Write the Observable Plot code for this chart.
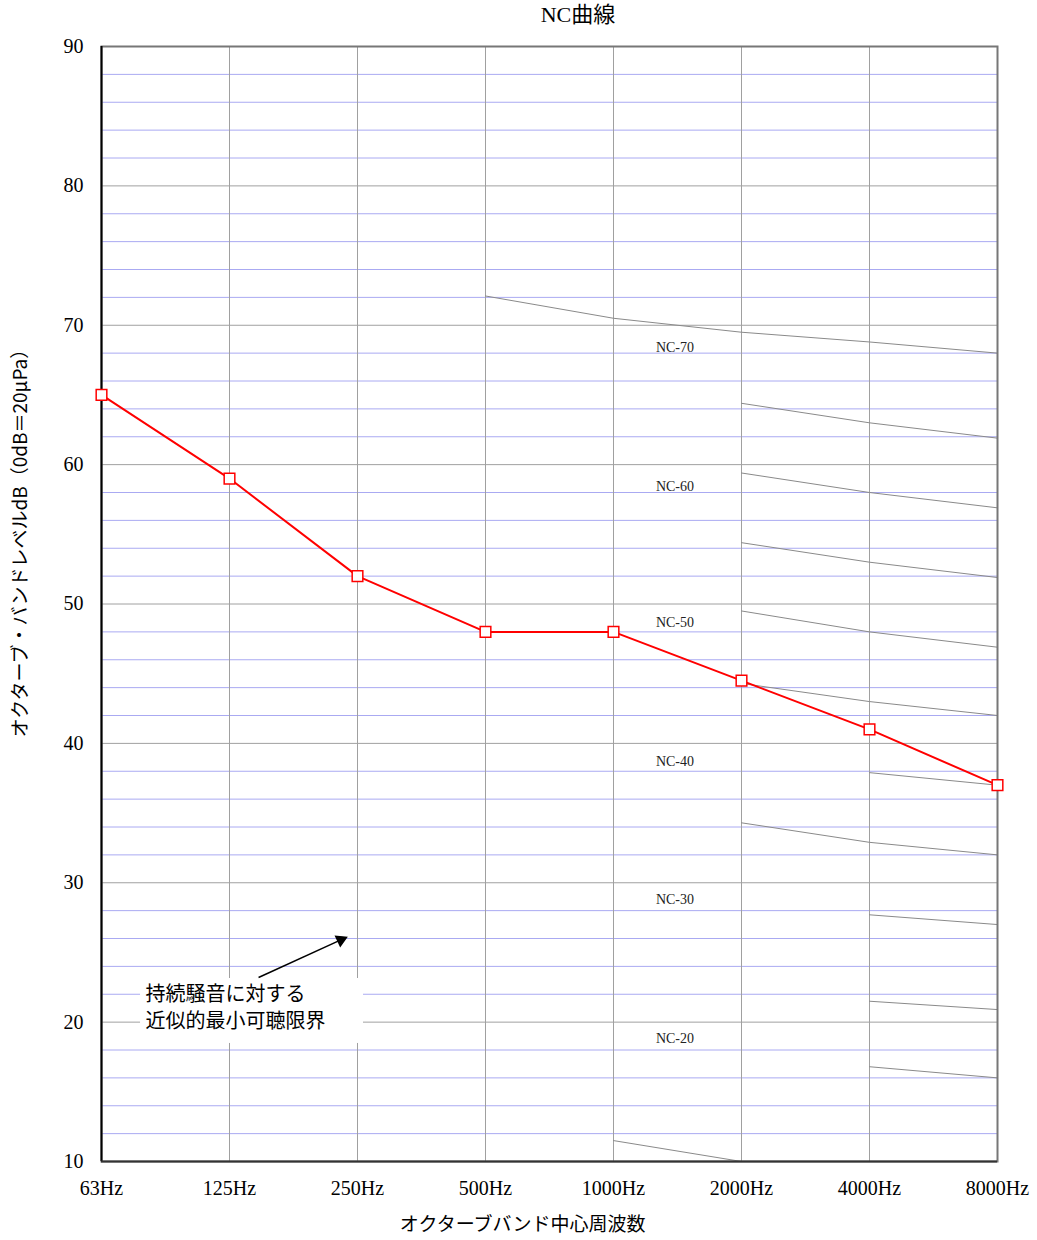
<!DOCTYPE html>
<html>
<head>
<meta charset="utf-8">
<script src="https://cdn.jsdelivr.net/npm/d3@7"></script>
<script src="https://cdn.jsdelivr.net/npm/@observablehq/plot@0.6"></script>
<style>
  body { margin: 0; background: #fff; }
  #wrap { position: relative; width: 1037px; height: 1240px; }
  #title { position: absolute; z-index: 2; top: 2px; left: 478px; width: 200px; text-align: center;
           font-family: 'Liberation Serif', 'Noto Sans CJK JP', serif; font-size: 22px; line-height: 26px; color: #000; }
  #chart { position: absolute; z-index: 1; top: 0; left: 0; }
</style>
</head>
<body>
<div id="wrap">
  <div id="chart"></div>
  <div id="title">NC曲線</div>
</div>
<script>
// ---- data ----
const freqLabels = ["63Hz", "125Hz", "250Hz", "500Hz", "1000Hz", "2000Hz", "4000Hz", "8000Hz"];
const measured = [65, 59, 52, 48, 48, 44.5, 41, 37];
const yTicks = [10, 20, 30, 40, 50, 60, 70, 80, 90];

// NC reference curve segments (as drawn): first band index and values
const ncSegNames  = ["NC-70", "NC-65", "NC-60", "NC-55", "NC-50", "NC-45", "NC-40", "NC-35", "NC-30", "NC-25", "NC-20", "NC-15"];
const ncSegStart  = [3, 5, 5, 5, 5, 5, 6, 5, 6, 6, 6, 4];
const ncSegValues = [
  [72.1, 70.5, 69.5, 68.8, 68],
  [64.4, 63, 61.9],
  [59.4, 58, 56.9],
  [54.4, 53, 51.9],
  [49.5, 48, 46.9],
  [44.3, 43, 42],
  [37.9, 37],
  [34.3, 32.9, 32],
  [27.7, 27],
  [21.5, 20.9],
  [16.8, 16],
  [11.5, 10]
];

// NC curve labels and the level they sit at
const ncLabels = ["NC-70", "NC-60", "NC-50", "NC-40", "NC-30", "NC-20"];
const ncLabelLevels = [68.4, 58.4, 48.7, 38.7, 28.8, 18.8];

const annotationLines = ["持続騒音に対する", "近似的最小可聴限界"];
const yLabel = "オクターブ・バンドレベルdB（0dB＝20μPa）";
const xLabel = "オクターブバンド中心周波数";

// ---- derived tables ----
const measuredData = measured.map((v, i) => ({i, v}));
const ncData = ncSegNames.flatMap((name, k) =>
  ncSegValues[k].map((v, j) => ({name, i: ncSegStart[k] + j, v})));
const ncLabelData = ncLabels.map((t, k) => ({t, v: ncLabelLevels[k]}));

const minorGrid = d3.range(12, 90, 2).filter(v => v % 10 !== 0);
const majorGrid = [20, 30, 40, 50, 60, 70, 80];

// annotation placement (chart units: band index / dB)
const ann = {box: {x1: 0.305, x2: 2.047, y1: 18.47, y2: 23.13},
             textX: 0.344, textY: [22.0, 20.02],
             arrow: {x1: 1.227, y1: 23.2, x2: 1.87, y2: 25.9}};

const serif = "'Liberation Serif', 'Noto Sans CJK JP', serif";
const jp = "'Noto Sans CJK JP', sans-serif";

const chart = Plot.plot({
  width: 1037,
  height: 1240,
  marginLeft: 101,
  marginRight: 40,
  marginTop: 46,
  marginBottom: 79,
  style: {fontFamily: serif, fontSize: "20px", background: "#fff", color: "#000"},
  x: {domain: [0, 7], axis: null},
  y: {domain: [10, 90], axis: null},
  marks: [
    Plot.ruleY(minorGrid, {stroke: "#aaaaf2", strokeWidth: 1}),
    Plot.ruleY(majorGrid, {stroke: "#a0a0a0", strokeWidth: 1}),
    Plot.ruleX(d3.range(1, 7), {stroke: "#a0a0a0", strokeWidth: 1}),
    // annotation background
    Plot.rect([ann.box], {x1: "x1", x2: "x2", y1: "y1", y2: "y2", fill: "#fff"}),
    // NC curves
    Plot.line(ncData, {x: "i", y: "v", z: "name", stroke: "#8a8a8a", strokeWidth: 1}),
    Plot.text(ncLabelData, {x: () => 4.48, y: "v", text: "t", fontSize: 14, fill: "#222",
      fontFamily: serif}),
    // annotation
    Plot.link([ann.arrow], {x1: "x1", y1: "y1", x2: "x2", y2: "y2", stroke: "#000", strokeWidth: 1.5}),
    Plot.dot([ann.arrow], {x: "x2", y: "y2", symbol: "triangle", r: 4, fill: "#000", stroke: "#000", rotate: 65}),
    Plot.text(annotationLines, {x: () => ann.textX, y: (d, i) => ann.textY[i], text: d => d,
      textAnchor: "start", lineAnchor: "middle", fontSize: 20, fontFamily: jp, fill: "#000"}),
    // frame
    Plot.frame({stroke: "#777", strokeWidth: 2}),
    Plot.ruleX([0], {stroke: "#000", strokeWidth: 2}),
    Plot.ruleY([10], {stroke: "#333", strokeWidth: 2}),
    // axes
    Plot.axisY({ticks: yTicks, tickSize: 0, tickPadding: 18, fontSize: 20, label: null}),
    Plot.axisX({ticks: d3.range(0, 8), tickFormat: i => freqLabels[i], tickSize: 0, tickPadding: 19, fontSize: 20, label: null}),
    // axis titles
    Plot.text([yLabel], {frameAnchor: "left", y: () => 54.7, text: d => d, dx: -81, rotate: -90,
      textAnchor: "middle", fontSize: 19, fontFamily: jp, fill: "#000"}),
    Plot.text([xLabel], {frameAnchor: "bottom", x: () => 3.29, text: d => d, dy: 69,
      textAnchor: "middle", fontSize: 19, fontFamily: jp, fill: "#000"}),
    // measured series
    Plot.line(measuredData, {x: "i", y: "v", stroke: "#ff0000", strokeWidth: 2}),
    Plot.dot(measuredData, {x: "i", y: "v", symbol: "square", r: 6, fill: "#fff", stroke: "#ff0000", strokeWidth: 1.5})
  ]
});
document.getElementById("chart").appendChild(chart);
</script>
</body>
</html>
